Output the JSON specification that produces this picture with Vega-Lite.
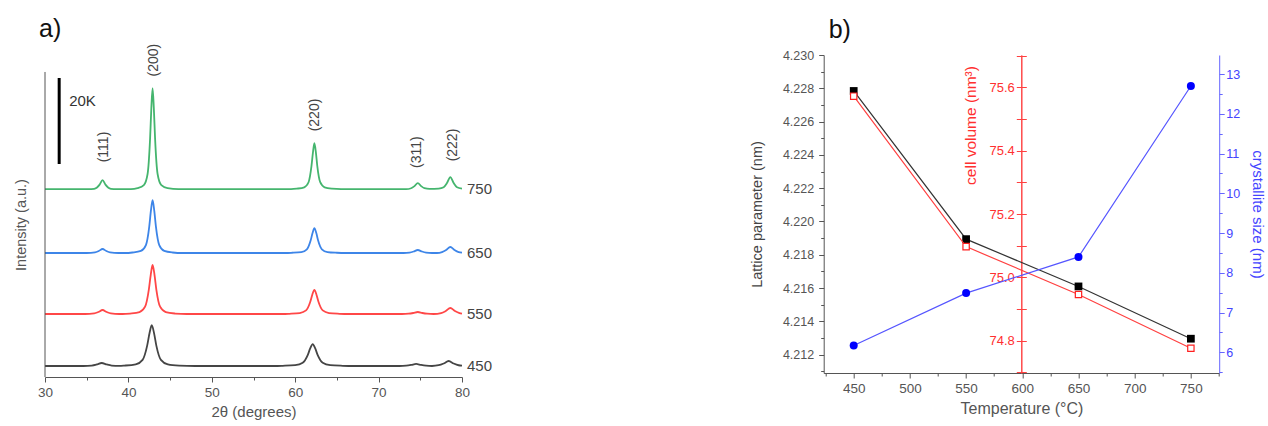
{
  "$schema": "https://vega.github.io/schema/vega-lite/v6.json",
  "background": "white",
  "padding": {"left": 13, "top": 16, "right": 2, "bottom": 0},
  "bounds": "flush",
  "spacing": 361.7,
  "config": {"view": {"stroke": null}, "font": "Liberation Sans", "title": {"font": "Liberation Sans"}},
  "datasets": {
    "xrd": [
      {"s": "750", "x": 30, "y": 43700}, {"s": "750", "x": 35.2, "y": 43700}, {"s": "750", "x": 35.9, "y": 43780}, {"s": "750", "x": 36.2, "y": 44015}, {"s": "750", "x": 36.55, "y": 44750}, {"s": "750", "x": 36.9, "y": 45800}, {"s": "750", "x": 37.25, "y": 44750}, {"s": "750", "x": 37.6, "y": 44015}, {"s": "750", "x": 37.9, "y": 43780}, {"s": "750", "x": 38.6, "y": 43700},
      {"s": "750", "x": 40.3, "y": 43700}, {"s": "750", "x": 41.1, "y": 43935}, {"s": "750", "x": 41.85, "y": 44640}, {"s": "750", "x": 42.3, "y": 47225}, {"s": "750", "x": 42.6, "y": 55450}, {"s": "750", "x": 42.75, "y": 62500}, {"s": "750", "x": 42.9, "y": 67200}, {"s": "750", "x": 43.05, "y": 62500}, {"s": "750", "x": 43.2, "y": 55450}, {"s": "750", "x": 43.5, "y": 47225}, {"s": "750", "x": 43.95, "y": 44640}, {"s": "750", "x": 44.7, "y": 43935}, {"s": "750", "x": 46, "y": 43700},
      {"s": "750", "x": 59.5, "y": 43700}, {"s": "750", "x": 60.2, "y": 43807}, {"s": "750", "x": 61.08, "y": 44128}, {"s": "750", "x": 61.6, "y": 45305}, {"s": "750", "x": 61.95, "y": 49050}, {"s": "750", "x": 62.13, "y": 52260}, {"s": "750", "x": 62.3, "y": 54400}, {"s": "750", "x": 62.48, "y": 52260}, {"s": "750", "x": 62.65, "y": 49050}, {"s": "750", "x": 63.0, "y": 45305}, {"s": "750", "x": 63.53, "y": 44128}, {"s": "750", "x": 64.4, "y": 43807}, {"s": "750", "x": 65.5, "y": 43700},
      {"s": "750", "x": 73.3, "y": 43700}, {"s": "750", "x": 73.9, "y": 43910}, {"s": "750", "x": 74.3, "y": 44400}, {"s": "750", "x": 74.7, "y": 45100}, {"s": "750", "x": 75.1, "y": 44400}, {"s": "750", "x": 75.5, "y": 43910}, {"s": "750", "x": 76.1, "y": 43740}, {"s": "750", "x": 77.2, "y": 43810}, {"s": "750", "x": 77.8, "y": 44120}, {"s": "750", "x": 78.2, "y": 45100}, {"s": "750", "x": 78.6, "y": 46500}, {"s": "750", "x": 79.0, "y": 45100}, {"s": "750", "x": 79.4, "y": 44120}, {"s": "750", "x": 80.0, "y": 43810},

      {"s": "650", "x": 30, "y": 28840}, {"s": "650", "x": 35.0, "y": 28840}, {"s": "650", "x": 36.0, "y": 28980}, {"s": "650", "x": 36.45, "y": 29305}, {"s": "650", "x": 36.9, "y": 29770}, {"s": "650", "x": 37.35, "y": 29305}, {"s": "650", "x": 37.8, "y": 28980}, {"s": "650", "x": 38.8, "y": 28840}, {"s": "650", "x": 39.5, "y": 28840},
      {"s": "650", "x": 40.5, "y": 28963}, {"s": "650", "x": 41.5, "y": 29332}, {"s": "650", "x": 42.1, "y": 30685}, {"s": "650", "x": 42.5, "y": 34990}, {"s": "650", "x": 42.7, "y": 38680}, {"s": "650", "x": 42.9, "y": 41140}, {"s": "650", "x": 43.1, "y": 38680}, {"s": "650", "x": 43.3, "y": 34990}, {"s": "650", "x": 43.7, "y": 30685}, {"s": "650", "x": 44.3, "y": 29332}, {"s": "650", "x": 45.3, "y": 28963}, {"s": "650", "x": 46.5, "y": 28840},
      {"s": "650", "x": 58.8, "y": 28840}, {"s": "650", "x": 59.6, "y": 28898}, {"s": "650", "x": 60.73, "y": 29072}, {"s": "650", "x": 61.4, "y": 29710}, {"s": "650", "x": 61.85, "y": 31740}, {"s": "650", "x": 62.08, "y": 33480}, {"s": "650", "x": 62.3, "y": 34640}, {"s": "650", "x": 62.53, "y": 33480}, {"s": "650", "x": 62.75, "y": 31740}, {"s": "650", "x": 63.2, "y": 29710}, {"s": "650", "x": 63.88, "y": 29072}, {"s": "650", "x": 65.0, "y": 28898}, {"s": "650", "x": 66.0, "y": 28840},
      {"s": "650", "x": 73.0, "y": 28840}, {"s": "650", "x": 73.7, "y": 28945}, {"s": "650", "x": 74.2, "y": 29190}, {"s": "650", "x": 74.7, "y": 29540}, {"s": "650", "x": 75.2, "y": 29190}, {"s": "650", "x": 75.7, "y": 28945}, {"s": "650", "x": 76.4, "y": 28840}, {"s": "650", "x": 77.0, "y": 28840}, {"s": "650", "x": 77.6, "y": 29050}, {"s": "650", "x": 78.1, "y": 29540}, {"s": "650", "x": 78.6, "y": 30240}, {"s": "650", "x": 79.1, "y": 29540}, {"s": "650", "x": 79.6, "y": 29050}, {"s": "650", "x": 80.0, "y": 28920},

      {"s": "550", "x": 30, "y": 14650}, {"s": "550", "x": 34.8, "y": 14650}, {"s": "550", "x": 35.9, "y": 14790}, {"s": "550", "x": 36.4, "y": 15115}, {"s": "550", "x": 36.9, "y": 15580}, {"s": "550", "x": 37.4, "y": 15115}, {"s": "550", "x": 37.9, "y": 14790}, {"s": "550", "x": 38.9, "y": 14650}, {"s": "550", "x": 39.3, "y": 14650},
      {"s": "550", "x": 40.2, "y": 14764}, {"s": "550", "x": 41.33, "y": 15106}, {"s": "550", "x": 42.0, "y": 16360}, {"s": "550", "x": 42.45, "y": 20350}, {"s": "550", "x": 42.68, "y": 23770}, {"s": "550", "x": 42.9, "y": 26050}, {"s": "550", "x": 43.13, "y": 23770}, {"s": "550", "x": 43.35, "y": 20350}, {"s": "550", "x": 43.8, "y": 16360}, {"s": "550", "x": 44.48, "y": 15106}, {"s": "550", "x": 45.6, "y": 14764}, {"s": "550", "x": 47.0, "y": 14650},
      {"s": "550", "x": 58.5, "y": 14650}, {"s": "550", "x": 59.3, "y": 14706}, {"s": "550", "x": 60.55, "y": 14874}, {"s": "550", "x": 61.3, "y": 15490}, {"s": "550", "x": 61.8, "y": 17450}, {"s": "550", "x": 62.05, "y": 19130}, {"s": "550", "x": 62.3, "y": 20250}, {"s": "550", "x": 62.55, "y": 19130}, {"s": "550", "x": 62.8, "y": 17450}, {"s": "550", "x": 63.3, "y": 15490}, {"s": "550", "x": 64.05, "y": 14874}, {"s": "550", "x": 65.3, "y": 14706}, {"s": "550", "x": 66.5, "y": 14650},
      {"s": "550", "x": 72.8, "y": 14650}, {"s": "550", "x": 73.6, "y": 14720}, {"s": "550", "x": 74.15, "y": 14885}, {"s": "550", "x": 74.7, "y": 15120}, {"s": "550", "x": 75.25, "y": 14885}, {"s": "550", "x": 75.8, "y": 14720}, {"s": "550", "x": 76.6, "y": 14650}, {"s": "550", "x": 77.5, "y": 14860}, {"s": "550", "x": 78.05, "y": 15350}, {"s": "550", "x": 78.6, "y": 16050}, {"s": "550", "x": 79.15, "y": 15350}, {"s": "550", "x": 79.7, "y": 14860}, {"s": "550", "x": 80.0, "y": 14730},

      {"s": "450", "x": 30, "y": 2560}, {"s": "450", "x": 34.6, "y": 2560}, {"s": "450", "x": 35.6, "y": 2665}, {"s": "450", "x": 36.2, "y": 2910}, {"s": "450", "x": 36.8, "y": 3260}, {"s": "450", "x": 37.4, "y": 2910}, {"s": "450", "x": 38.0, "y": 2665}, {"s": "450", "x": 38.9, "y": 2600},
      {"s": "450", "x": 39.5, "y": 2655}, {"s": "450", "x": 40.88, "y": 2940}, {"s": "450", "x": 41.7, "y": 3985}, {"s": "450", "x": 42.25, "y": 7310}, {"s": "450", "x": 42.53, "y": 10160}, {"s": "450", "x": 42.8, "y": 12060}, {"s": "450", "x": 43.08, "y": 10160}, {"s": "450", "x": 43.35, "y": 7310}, {"s": "450", "x": 43.9, "y": 3985}, {"s": "450", "x": 44.73, "y": 2940}, {"s": "450", "x": 46.1, "y": 2655}, {"s": "450", "x": 48.0, "y": 2560},
      {"s": "450", "x": 57.5, "y": 2560}, {"s": "450", "x": 58.5, "y": 2611}, {"s": "450", "x": 60.0, "y": 2764}, {"s": "450", "x": 60.9, "y": 3325}, {"s": "450", "x": 61.5, "y": 5110}, {"s": "450", "x": 61.8, "y": 6640}, {"s": "450", "x": 62.1, "y": 7660}, {"s": "450", "x": 62.4, "y": 6640}, {"s": "450", "x": 62.7, "y": 5110}, {"s": "450", "x": 63.3, "y": 3325}, {"s": "450", "x": 64.2, "y": 2764}, {"s": "450", "x": 65.7, "y": 2611}, {"s": "450", "x": 67.0, "y": 2560},
      {"s": "450", "x": 72.5, "y": 2560}, {"s": "450", "x": 73.3, "y": 2630}, {"s": "450", "x": 73.9, "y": 2795}, {"s": "450", "x": 74.5, "y": 3030}, {"s": "450", "x": 75.1, "y": 2795}, {"s": "450", "x": 75.7, "y": 2630}, {"s": "450", "x": 76.4, "y": 2560}, {"s": "450", "x": 77.2, "y": 2734}, {"s": "450", "x": 77.8, "y": 3140}, {"s": "450", "x": 78.4, "y": 3720}, {"s": "450", "x": 79.0, "y": 3140}, {"s": "450", "x": 79.6, "y": 2734}, {"s": "450", "x": 80.0, "y": 2640}
    ],
    "peaks": [
      {"label": "(111)", "x": 37.07, "y": 53500},
      {"label": "(200)", "x": 43.07, "y": 73700},
      {"label": "(220)", "x": 62.37, "y": 60940},
      {"label": "(311)", "x": 74.6, "y": 52300},
      {"label": "(222)", "x": 78.9, "y": 53960}
    ],
    "tlabels": [
      {"s": "750", "x": 80, "y": 43700},
      {"s": "650", "x": 80, "y": 28840},
      {"s": "550", "x": 80, "y": 14650},
      {"s": "450", "x": 80, "y": 2560}
    ],
    "temp": [
      {"T": 450, "a": 4.22784, "V": 75.572, "D": 6.17},
      {"T": 550, "a": 4.21894, "V": 75.097, "D": 7.49},
      {"T": 650, "a": 4.2161, "V": 74.946, "D": 8.40},
      {"T": 750, "a": 4.21296, "V": 74.776, "D": 12.70}
    ]
  },
  "hconcat": [
    {
      "width": 417,
      "height": 322,
      "title": {"text": "a)", "anchor": "start", "frame": "group", "fontSize": 25, "fontWeight": "normal", "color": "#111", "dx": -6, "offset": 2},
      "layer": [
        {
          "data": {"name": "xrd"},
          "mark": {"type": "line", "interpolate": "monotone", "strokeWidth": 1.8},
          "encoding": {
            "x": {"field": "x", "type": "quantitative", "scale": {"domain": [30, 80], "nice": false},
              "axis": {"values": [30, 35, 40, 45, 50, 55, 60, 65, 70, 75, 80], "labelExpr": "datum.value % 10 == 0 ? datum.label : ''", "title": "2θ (degrees)", "grid": false,
                "tickSize": {"condition": {"test": "datum.value % 10 == 0", "value": 5}, "value": 3},
                "domainColor": "#555", "tickColor": "#555", "labelColor": "#555", "labelFontSize": 13.5, "titleFontSize": 15, "titleColor": "#555", "titleFontWeight": "normal", "labelPadding": 3, "titlePadding": 6, "labelFlush": false}},
            "y": {"field": "y", "type": "quantitative", "scale": {"domain": [0, 74900], "nice": false},
              "axis": {"title": "Intensity (a.u.)", "labels": false, "ticks": false, "domain": false, "grid": false, "titleFontSize": 14.5, "titleColor": "#555", "titleFontWeight": "normal", "titlePadding": 17, "titleY": 169.5}},
            "color": {"field": "s", "type": "nominal", "scale": {"domain": ["450", "550", "650", "750"], "range": ["#454545", "#ff4747", "#3d85e8", "#45b56e"]}, "legend": null}
          }
        },
        {
          "data": {"values": [{}]},
          "mark": {"type": "rule", "color": "#555", "strokeWidth": 1},
          "encoding": {"x": {"datum": 30}, "y": {"datum": 0}, "y2": {"datum": 70950}}
        },
        {
          "data": {"values": [{}]},
          "mark": {"type": "rule", "color": "#000", "strokeWidth": 3},
          "encoding": {"x": {"datum": 31.7}, "y": {"datum": 49540}, "y2": {"datum": 69550}}
        },
        {
          "data": {"values": [{}]},
          "mark": {"type": "text", "align": "left", "baseline": "middle", "fontSize": 15, "color": "#333"},
          "encoding": {"x": {"datum": 32.9}, "y": {"datum": 64200}, "text": {"value": "20K"}}
        },
        {
          "data": {"name": "peaks"},
          "mark": {"type": "text", "angle": 270, "align": "center", "baseline": "middle", "fontSize": 14, "color": "#444"},
          "encoding": {"x": {"field": "x", "type": "quantitative"}, "y": {"field": "y", "type": "quantitative"}, "text": {"field": "label"}}
        },
        {
          "data": {"name": "tlabels"},
          "mark": {"type": "text", "align": "left", "baseline": "middle", "dx": 5, "fontSize": 15, "color": "#444"},
          "encoding": {"x": {"field": "x", "type": "quantitative"}, "y": {"field": "y", "type": "quantitative"}, "text": {"field": "s"}}
        }
      ]
    },
    {
      "width": 395.5,
      "height": 318,
      "title": {"text": "b)", "anchor": "start", "frame": "group", "fontSize": 25, "fontWeight": "normal", "color": "#111", "dx": 5, "offset": 6},
      "data": {"name": "temp"},
      "encoding": {
        "x": {"field": "T", "type": "quantitative", "scale": {"domain": [423.3, 775.2], "nice": false},
          "axis": {"values": [425, 450, 475, 500, 525, 550, 575, 600, 625, 650, 675, 700, 725, 750, 775], "labelExpr": "datum.value % 50 == 0 ? datum.label : ''", "title": "Temperature (°C)", "grid": false,
            "tickSize": {"condition": {"test": "datum.value % 50 == 0", "value": 5}, "value": 3},
            "domainColor": "#555", "tickColor": "#555", "labelColor": "#555", "labelFontSize": 13.5, "titleFontSize": 16, "titleColor": "#555", "titleFontWeight": "normal", "labelPadding": 3, "titlePadding": 6}}
      },
      "layer": [
        {
          "mark": {"type": "line", "color": "#333", "strokeWidth": 1.2, "point": {"shape": "square", "size": 60, "filled": true, "color": "#000"}},
          "encoding": {
            "y": {"field": "a", "type": "quantitative", "scale": {"domain": [4.2109, 4.2300], "nice": false, "zero": false},
              "axis": {"orient": "left", "values": [4.211, 4.212, 4.213, 4.214, 4.215, 4.216, 4.217, 4.218, 4.219, 4.220, 4.221, 4.222, 4.223, 4.224, 4.225, 4.226, 4.227, 4.228, 4.229, 4.230],
                "labelExpr": "round(datum.value*1000) % 2 == 0 ? format(datum.value, '.3f') : ''",
                "tickSize": {"condition": {"test": "round(datum.value*1000) % 2 == 0", "value": 5}, "value": 3},
                "title": "Lattice parameter (nm)", "grid": false, "domainColor": "#555", "tickColor": "#555", "labelColor": "#555", "labelFontSize": 12.5, "labelPadding": 5, "titleFontSize": 14.5, "titleColor": "#444", "titleFontWeight": "normal", "titlePadding": 18}}
          }
        },
        {
          "mark": {"type": "line", "color": "#ff4040", "strokeWidth": 1.2, "point": {"shape": "square", "size": 40, "filled": true, "fill": "white", "stroke": "#ff2020", "strokeWidth": 1.2}},
          "encoding": {
            "y": {"field": "V", "type": "quantitative", "scale": {"domain": [74.698, 75.702], "nice": false, "zero": false},
              "axis": {"orient": "left", "offset": -197.6, "values": [74.7, 74.8, 74.9, 75.0, 75.1, 75.2, 75.3, 75.4, 75.5, 75.6, 75.7],
                "labelExpr": "round(datum.value*10) % 2 == 0 ? format(datum.value, '.1f') : ''",
                "tickSize": 5,
                "title": "cell volume (nm³)", "titleX": -43, "titleY": 70, "titleAlign": "center", "titleBaseline": "bottom",
                "grid": false, "domainColor": "#ff4040", "tickColor": "#ff4040", "labelColor": "#ff3030", "labelFontSize": 13, "titleFontSize": 15.5, "titleColor": "#ff3030", "titleFontWeight": "normal"}}
          }
        },
        {
          "mark": {"type": "line", "color": "#5555ff", "strokeWidth": 1.2, "point": {"shape": "circle", "size": 64, "filled": true, "color": "#0000ff"}},
          "encoding": {
            "y": {"field": "D", "type": "quantitative", "scale": {"domain": [5.48, 13.48], "nice": false, "zero": false},
              "axis": {"orient": "right", "values": [5.5, 6, 6.5, 7, 7.5, 8, 8.5, 9, 9.5, 10, 10.5, 11, 11.5, 12, 12.5, 13],
                "labelExpr": "datum.value % 1 == 0 ? format(datum.value, 'd') : ''",
                "tickSize": {"condition": {"test": "datum.value % 1 == 0", "value": 5}, "value": 3},
                "title": "crystallite size (nm)", "grid": false, "domainColor": "#6666ff", "tickColor": "#6666ff", "labelColor": "#4444ff", "labelFontSize": 12.5, "labelPadding": 1.5, "titleFontSize": 15, "titleColor": "#4444ff", "titleFontWeight": "normal", "titlePadding": 10}}
          }
        },
        {
          "mark": {"type": "point", "opacity": 0},
          "encoding": {
            "y": {"field": "V", "type": "quantitative", "scale": {"domain": [74.698, 75.702], "nice": false, "zero": false},
              "axis": {"orient": "right", "offset": -197.9, "values": [74.7, 74.8, 74.9, 75.0, 75.1, 75.2, 75.3, 75.4, 75.5, 75.6, 75.7], "labels": false, "title": null, "grid": false, "tickSize": 5, "domainColor": "#ff4040", "tickColor": "#ff4040"}}
          }
        }
      ],
      "resolve": {"scale": {"y": "independent"}, "axis": {"y": "independent"}}
    }
  ]
}
